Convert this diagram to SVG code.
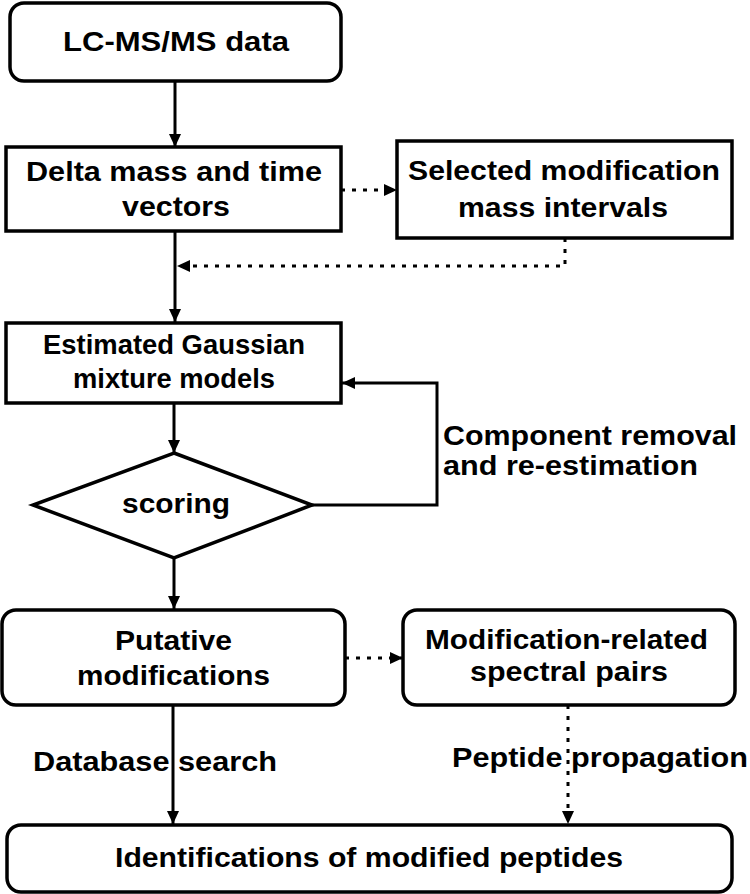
<svg xmlns="http://www.w3.org/2000/svg" width="750" height="894" viewBox="0 0 750 894">
<style>
.box{fill:#fff;stroke:#000;stroke-width:3.5}
.t{font-family:"Liberation Sans",Arial,sans-serif;font-weight:bold;font-size:28px;fill:#000}
.c{fill:none;stroke:#000;stroke-width:3}
.d{fill:none;stroke:#000;stroke-width:3;stroke-dasharray:4 7}
</style>
<defs>
<marker id="ah" markerUnits="userSpaceOnUse" markerWidth="14" markerHeight="14" refX="13" refY="7" orient="auto">
<path d="M0,1 L13,7 L0,13 Z" fill="#000"/>
</marker>
</defs>
<rect width="750" height="894" fill="#fff"/>
<g id="connectors">
<path class="c" d="M175,81 V147" marker-end="url(#ah)"/>
<path class="d" d="M341,190 H397" marker-end="url(#ah)"/>
<path class="d" d="M565,238 V266 H177" marker-end="url(#ah)"/>
<path class="c" d="M175,231 V322" marker-end="url(#ah)"/>
<path class="c" d="M174,403 V453" marker-end="url(#ah)"/>
<path class="c" d="M312,505 H437 V383 H342" marker-end="url(#ah)"/>
<path class="c" d="M174,558 V609" marker-end="url(#ah)"/>
<path class="c" d="M173,705 V824" marker-end="url(#ah)"/>
<path class="d" d="M345,658 H403" marker-end="url(#ah)"/>
<path class="d" d="M568,705 V824" marker-end="url(#ah)"/>
</g>
<g id="n1"><rect class="box" x="10" y="3" width="331" height="78" rx="14"/>
<text class="t" x="63" y="51" font-size="29" textLength="226" lengthAdjust="spacingAndGlyphs">LC-MS/MS data</text></g>
<g id="n2"><rect class="box" x="6" y="147" width="335" height="84"/>
<text class="t" x="26" y="181" textLength="296" lengthAdjust="spacingAndGlyphs">Delta mass and time</text>
<text class="t" x="122" y="216" textLength="108" lengthAdjust="spacingAndGlyphs">vectors</text></g>
<g id="n3"><rect class="box" x="397" y="141" width="335" height="97"/>
<text class="t" x="408" y="180" textLength="312" lengthAdjust="spacingAndGlyphs">Selected modification</text>
<text class="t" x="458" y="217" textLength="210" lengthAdjust="spacingAndGlyphs">mass intervals</text></g>
<g id="n4"><rect class="box" x="6" y="323" width="335" height="80"/>
<text class="t" x="43" y="354" font-size="25" textLength="262" lengthAdjust="spacingAndGlyphs">Estimated Gaussian</text>
<text class="t" x="73" y="388" font-size="25" textLength="202" lengthAdjust="spacingAndGlyphs">mixture models</text></g>
<g id="n5"><polygon class="box" points="174,453 312,505 174,558 33,505"/>
<text class="t" x="122" y="513" textLength="108" lengthAdjust="spacingAndGlyphs">scoring</text></g>
<g id="lbl-loop">
<text class="t" x="443" y="445" textLength="294" lengthAdjust="spacingAndGlyphs">Component removal</text>
<text class="t" x="443" y="475" textLength="255" lengthAdjust="spacingAndGlyphs">and re-estimation</text></g>
<g id="n6"><rect class="box" x="2" y="610" width="343" height="95" rx="14"/>
<text class="t" x="115" y="650" textLength="117" lengthAdjust="spacingAndGlyphs">Putative</text>
<text class="t" x="77" y="685" textLength="193" lengthAdjust="spacingAndGlyphs">modifications</text></g>
<g id="n7"><rect class="box" x="403" y="610" width="332" height="95" rx="14"/>
<text class="t" x="425" y="649" textLength="283" lengthAdjust="spacingAndGlyphs">Modification-related</text>
<text class="t" x="470" y="681" textLength="198" lengthAdjust="spacingAndGlyphs">spectral pairs</text></g>
<g id="lbl-db"><text class="t" x="33" y="771" textLength="244" lengthAdjust="spacingAndGlyphs">Database search</text></g>
<g id="lbl-pp"><text class="t" x="452" y="767" textLength="296" lengthAdjust="spacingAndGlyphs">Peptide propagation</text></g>
<g id="n8"><rect class="box" x="7" y="825" width="725" height="67" rx="14"/>
<text class="t" x="115" y="867" textLength="508" lengthAdjust="spacingAndGlyphs">Identifications of modified peptides</text></g>
</svg>
